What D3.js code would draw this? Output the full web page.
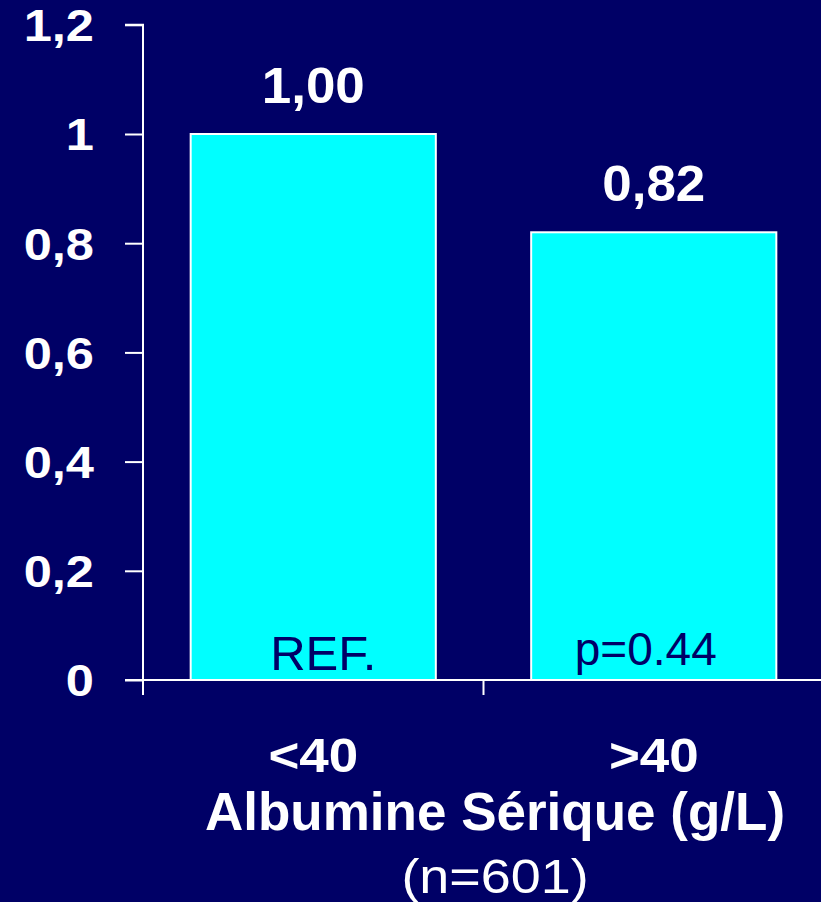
<!DOCTYPE html>
<html><head><meta charset="utf-8">
<script src="https://cdn.jsdelivr.net/npm/d3@7"></script>
<style>html,body{margin:0;padding:0;background:#000066;overflow:hidden}</style>
</head><body>
<svg id="c" width="821" height="902"></svg>
<script>
const categories = ["<40", ">40"];
const values = [1.00, 0.82];
const valueLabels = ["1,00", "0,82"];
const innerLabels = ["REF.", "p=0.44"];
const yTicks = [0, 0.2, 0.4, 0.6, 0.8, 1, 1.2];
const yTickLabels = ["0", "0,2", "0,4", "0,6", "0,8", "1", "1,2"];
const xTitle = "Albumine Sérique (g/L)";
const xSubtitle = "(n=601)";

const svg = d3.select("#c");
const W = 821, H = 902;
svg.append("rect").attr("width", W).attr("height", H).attr("fill", "#000066");

const x0 = 143, x1 = 824, yTop = 24.8, yBot = 680;
const y = d3.scaleLinear().domain([0, 1.2]).range([yBot, yTop]);
const x = d3.scaleBand().domain(categories).range([x0, x1]).paddingInner(0.28).paddingOuter(0.14);
const cx = c => x(c) + x.bandwidth() / 2;

const font = "Arial, 'Liberation Sans', Helvetica, sans-serif";

// helper: horizontally stretched text centred at (px,py)
function sText(g, px, py, sx) {
  return g.append("text").attr("transform", `translate(${px},${py}) scale(${sx},1)`)
    .attr("text-anchor", "middle").attr("font-family", font);
}

// Y axis
const tickSX = 1.15, tickOff = 49;
const yAxis = d3.axisLeft(y).tickValues(yTicks).tickSize(18).tickPadding(28)
  .tickFormat((d, i) => yTickLabels[i]);
const gy = svg.append("g").attr("transform", `translate(${x0},0)`).call(yAxis);
gy.select(".domain").attr("stroke", "#fff").attr("stroke-width", 2).attr("d", `M-18,${yTop}H0V${yBot}`);
gy.selectAll(".tick line").attr("stroke", "#fff").attr("stroke-width", 2);
gy.selectAll(".tick text").attr("fill", "#fff").attr("font-family", font)
  .attr("font-weight", "bold").attr("font-size", 44).attr("dy", "0.36em")
  .attr("x", -tickOff / tickSX).attr("transform", `scale(${tickSX},1)`);

// Bars
svg.append("g").selectAll("rect").data(values).join("rect")
  .attr("x", (d, i) => x(categories[i]))
  .attr("y", d => y(d))
  .attr("width", x.bandwidth())
  .attr("height", d => yBot - y(d))
  .attr("fill", "#00FFFF").attr("stroke", "#fff").attr("stroke-width", 2);

// X axis line with ticks
const xLine = svg.append("g");
xLine.append("line").attr("x1", x0 - 18).attr("x2", W).attr("y1", yBot).attr("y2", yBot)
  .attr("stroke", "#fff").attr("stroke-width", 2);
const tickPositions = [x0, (x(categories[0]) + x.bandwidth() + x(categories[1])) / 2];
xLine.selectAll("line.t").data(tickPositions).join("line").attr("class", "t")
  .attr("x1", d => d).attr("x2", d => d).attr("y1", yBot).attr("y2", yBot + 15)
  .attr("stroke", "#fff").attr("stroke-width", 2);

// Value labels
values.forEach((v, i) => {
  sText(svg, cx(categories[i]), y(v) - 31, 1.06)
    .attr("fill", "#fff").attr("font-weight", "bold").attr("font-size", 50)
    .text(valueLabels[i]);
});

// Inner labels
const innerDx = [10, -8], innerY = [670, 665], innerSize = [49, 46];
innerLabels.forEach((t, i) => {
  sText(svg, cx(categories[i]) + innerDx[i], innerY[i], 1.0)
    .attr("fill", "#000066").attr("font-size", innerSize[i]).text(t);
});

// Category labels
categories.forEach(c => {
  sText(svg, cx(c), 772, 1.08)
    .attr("fill", "#fff").attr("font-weight", "bold").attr("font-size", 49).text(c);
});

sText(svg, 495, 830, 1.0).attr("fill", "#fff").attr("font-weight", "bold").attr("font-size", 53)
  .text(xTitle);
sText(svg, 495, 893, 1.1).attr("fill", "#fff").attr("font-size", 49)
  .text(xSubtitle);
</script>
</body></html>
